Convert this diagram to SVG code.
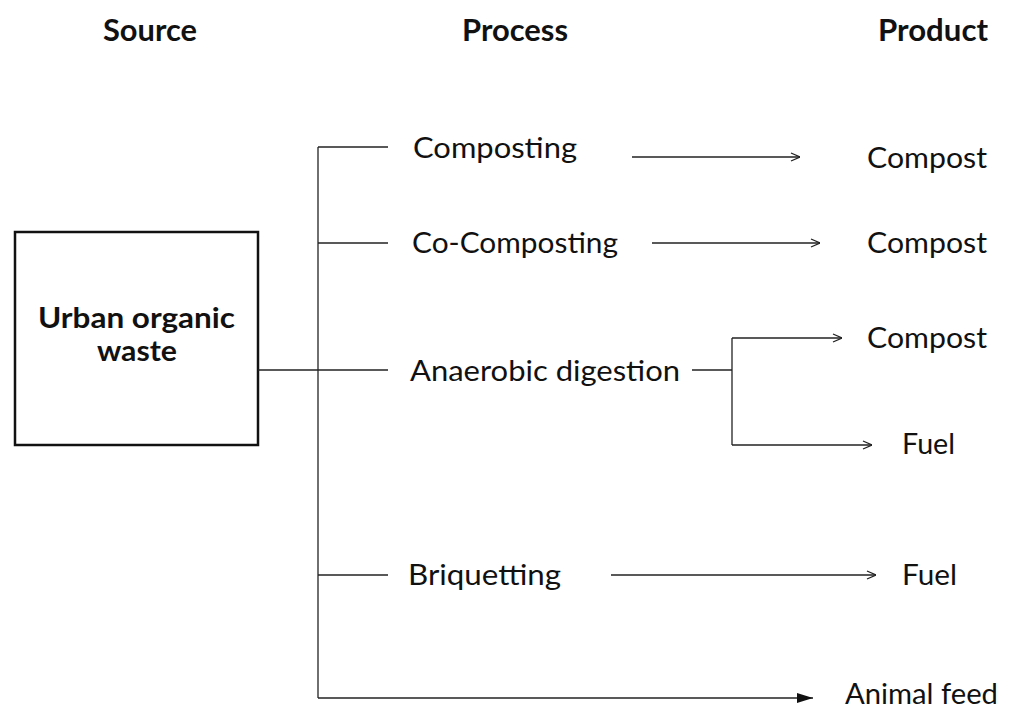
<svg xmlns="http://www.w3.org/2000/svg" width="1022" height="711" viewBox="0 0 1022 711">
<defs>
<style>
.h{font-family:Lato,"Liberation Sans",sans-serif;font-weight:bold;font-size:30px;fill:#111}
.t{font-family:Lato,"Liberation Sans",sans-serif;font-size:29px;fill:#111}
.b{font-family:Lato,"Liberation Sans",sans-serif;font-weight:bold;font-size:29px;fill:#111}
.ln{stroke:#222;stroke-width:1.3;fill:none}
</style>
<marker id="open" viewBox="0 0 10 10" refX="10" refY="5" markerWidth="10" markerHeight="10" markerUnits="userSpaceOnUse" orient="auto">
<path d="M1,1 L10,5 L1,9" fill="none" stroke="#222" stroke-width="1.3"/>
</marker>
<marker id="solid" viewBox="0 0 16 12" refX="16" refY="6" markerWidth="16" markerHeight="12" markerUnits="userSpaceOnUse" orient="auto">
<path d="M0,1 L16,6 L0,11 Z" fill="#111"/>
</marker>
</defs>
<rect width="1022" height="711" fill="#fff"/>
<g id="headers">
<text class="h" x="103" y="41" textLength="94" lengthAdjust="spacingAndGlyphs">Source</text>
<text class="h" x="462" y="41" textLength="106" lengthAdjust="spacingAndGlyphs">Process</text>
<text class="h" x="878" y="41" textLength="110" lengthAdjust="spacingAndGlyphs">Product</text>
</g>
<g id="source">
<rect x="15" y="232" width="243" height="213" fill="#fff" stroke="#111" stroke-width="2.5"/>
<text class="b" x="38" y="328" textLength="197" lengthAdjust="spacingAndGlyphs">Urban organic</text>
<text class="b" x="97" y="361" textLength="80" lengthAdjust="spacingAndGlyphs">waste</text>
</g>
<g id="connectors">
<path class="ln" d="M318,147 V698"/>
<path class="ln" d="M318,147 H388"/>
<path class="ln" d="M318,243 H388"/>
<path class="ln" d="M258,370 H388"/>
<path class="ln" d="M318,575 H388"/>
<path class="ln" d="M632,157 H800" marker-end="url(#open)"/>
<path class="ln" d="M652,243 H820" marker-end="url(#open)"/>
<path class="ln" d="M692,370 H732"/>
<path class="ln" d="M732,338 V445"/>
<path class="ln" d="M732,338 H842" marker-end="url(#open)"/>
<path class="ln" d="M732,445 H872" marker-end="url(#open)"/>
<path class="ln" d="M611,575 H876" marker-end="url(#open)"/>
<path class="ln" d="M318,698 H813" marker-end="url(#solid)"/>
</g>
<g id="composting"><text class="t" x="413" y="158" textLength="164" lengthAdjust="spacingAndGlyphs">Composting</text></g>
<g id="co-composting"><text class="t" x="412" y="253" textLength="206" lengthAdjust="spacingAndGlyphs">Co-Composting</text></g>
<g id="anaerobic-digestion"><text class="t" x="410" y="381" textLength="270" lengthAdjust="spacingAndGlyphs">Anaerobic digestion</text></g>
<g id="briquetting"><text class="t" x="408" y="585" textLength="153" lengthAdjust="spacingAndGlyphs">Briquetting</text></g>
<g id="compost-1"><text class="t" x="867" y="168" textLength="120" lengthAdjust="spacingAndGlyphs">Compost</text></g>
<g id="compost-2"><text class="t" x="867" y="253" textLength="120" lengthAdjust="spacingAndGlyphs">Compost</text></g>
<g id="compost-3"><text class="t" x="867" y="348" textLength="120" lengthAdjust="spacingAndGlyphs">Compost</text></g>
<g id="fuel-1"><text class="t" x="902" y="454" textLength="53" lengthAdjust="spacingAndGlyphs">Fuel</text></g>
<g id="fuel-2"><text class="t" x="902" y="585" textLength="55" lengthAdjust="spacingAndGlyphs">Fuel</text></g>
<g id="animal-feed"><text class="t" x="845" y="704" textLength="153" lengthAdjust="spacingAndGlyphs">Animal feed</text></g>
</svg>
